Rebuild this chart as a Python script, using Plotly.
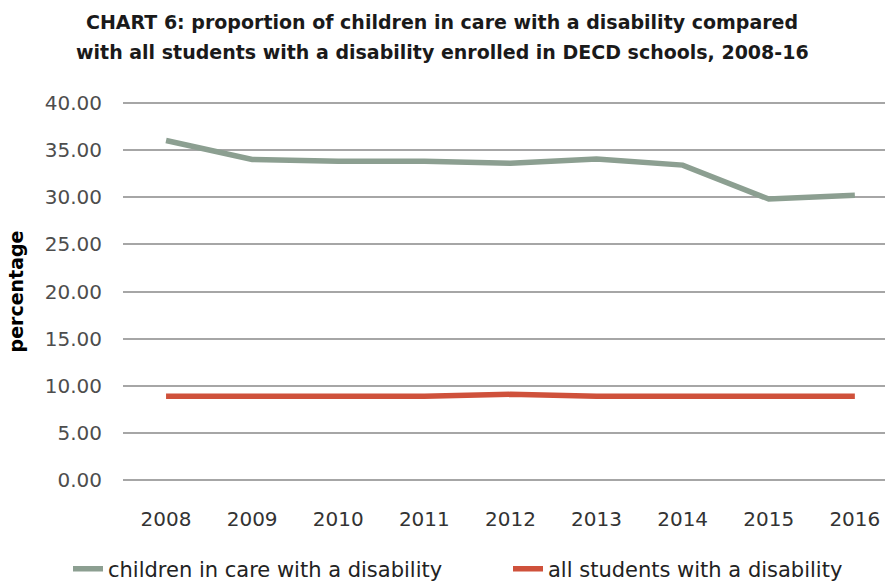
import plotly.graph_objects as go

years = ["2008", "2009", "2010", "2011", "2012", "2013", "2014", "2015", "2016"]
children_in_care = [36.0, 34.0, 33.8, 33.8, 33.6, 34.05, 33.4, 29.8, 30.2]
all_students = [8.9, 8.9, 8.9, 8.9, 9.1, 8.9, 8.9, 8.9, 8.9]
y_ticks = [0, 5, 10, 15, 20, 25, 30, 35, 40]

title_line1 = "CHART 6: proportion of children in care with a disability compared"
title_line2 = "with all students with a disability enrolled in DECD schools, 2008-16"

FONT = "DejaVu Sans"

fig = go.Figure()
fig.add_trace(go.Scatter(
    x=years, y=children_in_care, mode="lines",
    name="children in care with a disability",
    line=dict(color="#8C9F91", width=5.5),
    legend="legend",
))
fig.add_trace(go.Scatter(
    x=years, y=all_students, mode="lines",
    name="all students with a disability",
    line=dict(color="#CF513B", width=5.5),
    legend="legend2",
))

W, H = 885, 582
L, R, T, B = 123, 0, 100, 99
plot_w = W - L - R
plot_h = H - T - B
cat_px = 86.1

def py(screen_y):
    return 1 - (screen_y - T) / plot_h

def px(screen_x):
    return (screen_x - L) / plot_w

legend_common = dict(
    orientation="h", xanchor="left", yanchor="middle",
    font=dict(family=FONT, size=21, color="#222222"),
    bgcolor="rgba(0,0,0,0)",
)

fig.update_layout(
    width=W, height=H,
    margin=dict(l=L, r=R, t=T, b=B, autoexpand=False),
    paper_bgcolor="white", plot_bgcolor="white",
    font=dict(family=FONT, color="#404040"),
    showlegend=True,
    legend=dict(x=px(68), y=py(569), **legend_common),
    legend2=dict(x=px(508), y=py(569), **legend_common),
    xaxis=dict(
        type="category", range=[-0.5, -0.5 + plot_w / cat_px],
        showgrid=False, zeroline=False, showline=False,
        tickfont=dict(family=FONT, size=20, color="#333333"),
        ticklabelstandoff=22,
    ),
    yaxis=dict(
        range=[-0.3, 40.3], tickvals=y_ticks, tickformat=".2f",
        showgrid=True, gridcolor="#A6A6A6", gridwidth=1.6,
        zeroline=False, showline=False,
        tickfont=dict(family=FONT, size=20, color="#4d4d4d"),
        ticklabelstandoff=20,
        title=dict(text="<b>percentage</b>", standoff=16,
                   font=dict(family=FONT, size=19, color="#000000")),
    ),
)

title_x = px(442)
fig.add_annotation(text="<b>" + title_line1 + "</b>", xref="paper", yref="paper",
                   x=title_x, y=py(22), xanchor="center", yanchor="middle",
                   showarrow=False, font=dict(family=FONT, size=19, color="#1a1a1a"))
fig.add_annotation(text="<b>" + title_line2 + "</b>", xref="paper", yref="paper",
                   x=title_x, y=py(52), xanchor="center", yanchor="middle",
                   showarrow=False, font=dict(family=FONT, size=19, color="#1a1a1a"))

fig.write_html(
    "out.html",
    config={"displayModeBar": False},
    post_script="document.body.style.margin='0';document.body.style.overflow='hidden';",
)
